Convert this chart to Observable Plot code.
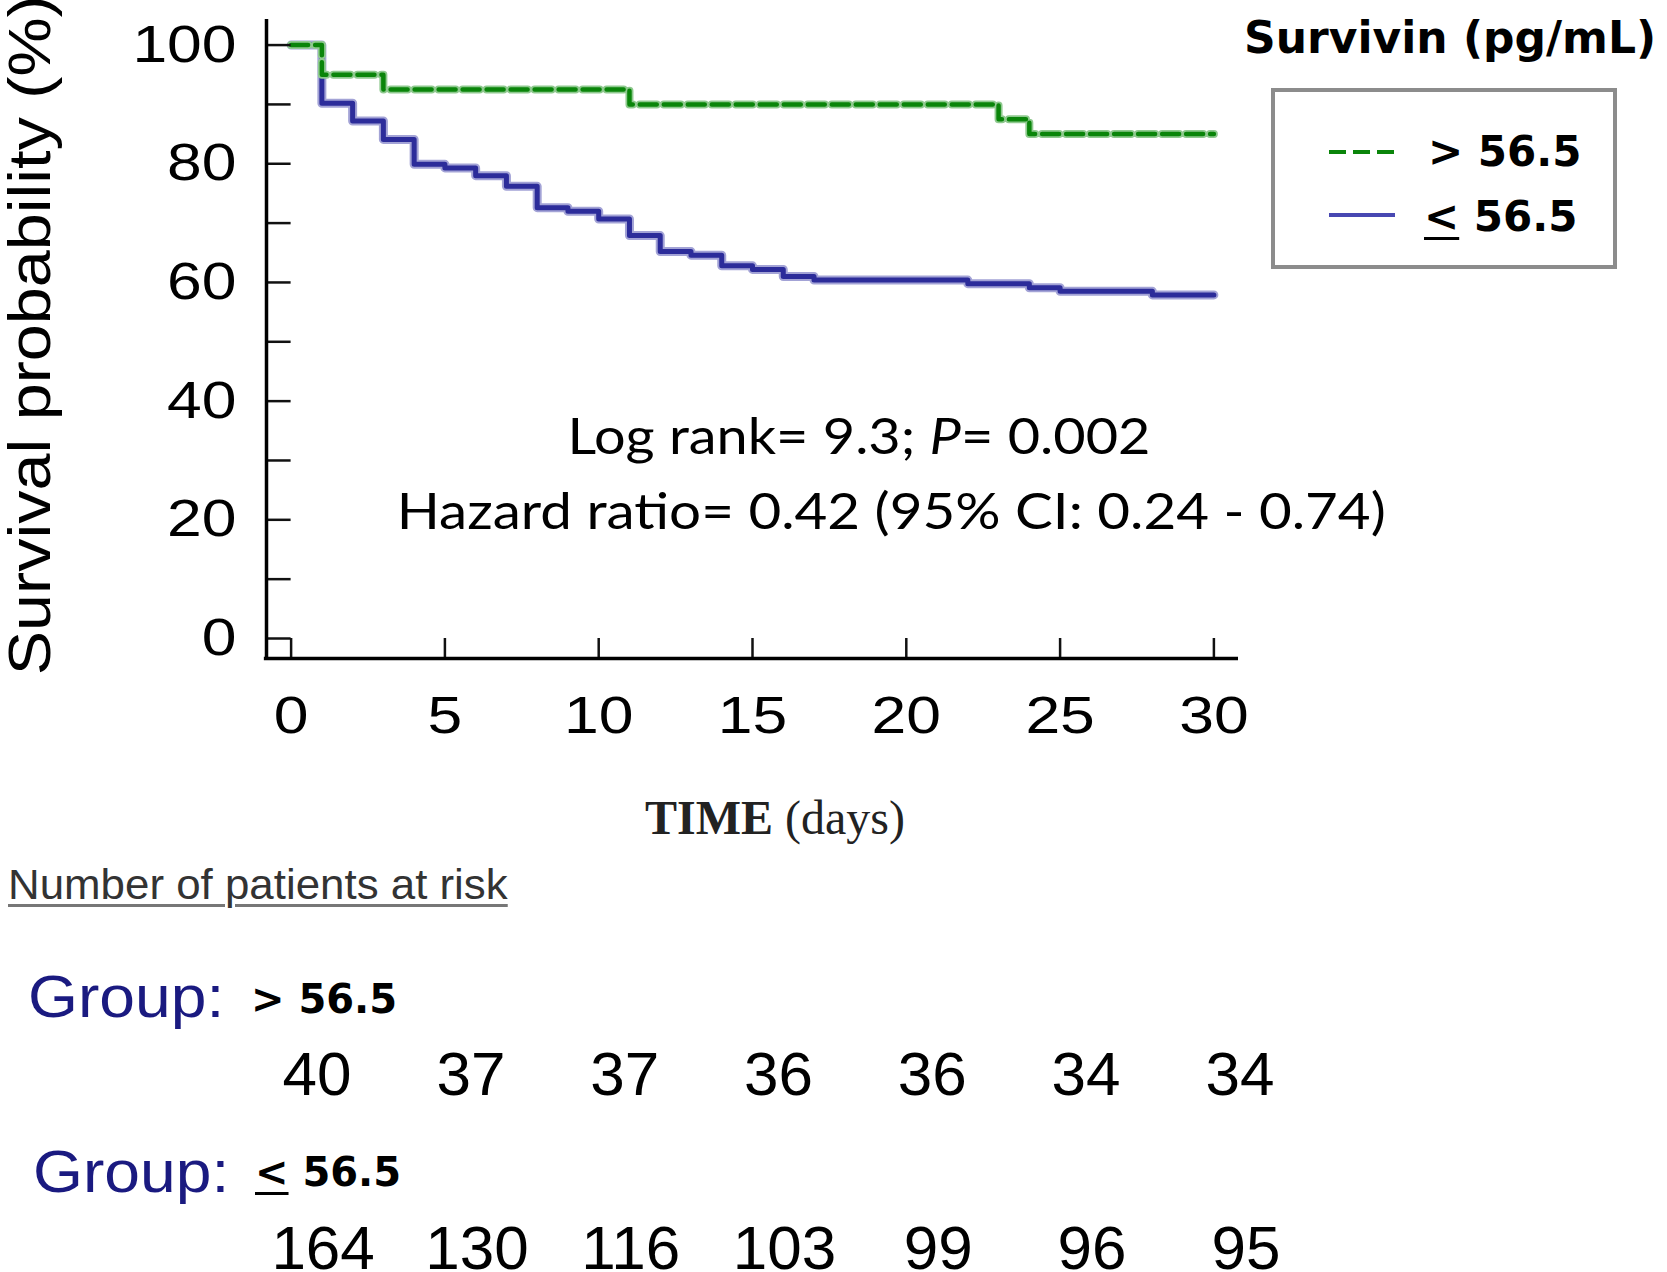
<!DOCTYPE html>
<html>
<head>
<meta charset="utf-8">
<script src="https://cdn.jsdelivr.net/npm/d3@7"></script>
<script src="https://cdn.jsdelivr.net/npm/@observablehq/plot@0.6"></script>
<style>
  html, body { margin: 0; padding: 0; background: #fff; }
  #wrap { position: relative; width: 1667px; height: 1272px; overflow: hidden; background: #fff; }
  #wrap > svg { position: absolute; left: 0; }
  .abs { position: absolute; line-height: 1; white-space: nowrap; }
  .ul { text-decoration: underline; text-decoration-thickness: 3px; text-underline-offset: 6px; }
</style>
</head>
<body>
<div id="wrap"></div>
<script>
// ---------- data ----------
const xTicks = [0, 5, 10, 15, 20, 25, 30];
const yTicks = [0, 10, 20, 30, 40, 50, 60, 70, 80, 90, 100];
const yLabelTicks = [0, 20, 40, 60, 80, 100];

const groups = ["> 56.5", "≤ 56.5"];

const highTimes = [0, 1, 3, 11, 23, 24, 30];
const highSurv  = [100, 95, 92.5, 90, 87.5, 85, 85];

const lowTimes = [0, 1, 2, 3, 4, 5, 6, 7, 8, 9, 10, 11, 12, 13, 14, 15, 16, 17, 22, 24, 25, 28, 30];
const lowSurv  = [100, 90.2, 87.2, 84.1, 79.9, 79.3, 78.0, 76.2, 72.6, 72.0, 70.7, 67.9, 65.2, 64.6, 62.8, 62.2, 61.0, 60.4, 59.8, 59.1, 58.5, 57.9, 57.9];

const riskDays = [0, 5, 10, 15, 20, 25, 30];
const riskHigh = [40, 37, 37, 36, 36, 34, 34];
const riskLow  = [164, 130, 116, 103, 99, 96, 95];

const yTitle = "Survival probability (%)";
const xTitleBold = "TIME";
const xTitleRest = " (days)";
const legendTitle = "Survivin (pg/mL)";
const logRankText = "Log rank= 9.3; P= 0.002";
const hazardText = "Hazard ratio= 0.42 (95% CI: 0.24 - 0.74)";
const riskTitle = "Number of patients at risk";
const groupWord = "Group:";

// ---------- derived tables ----------
const highData = highTimes.map((t, i) => ({t, s: highSurv[i]}));
const lowData = lowTimes.map((t, i) => ({t, s: lowSurv[i]}));
const riskRowsHigh = riskDays.map((d, i) => ({d, n: riskHigh[i], g: groups[0]}));
const riskRowsLow = riskDays.map((d, i) => ({d, n: riskLow[i], g: groups[1]}));

const xDomain = [-0.8, 30.8];
const yDomain = [-3.37, 104.31];
const GREEN = "#0a850a", GREEN_HALO = "#8fc98f";
const BLUE = "#2c2c9a", BLUE_HALO = "#a3a3d6";
const dash = "17,7";

const wrap = document.getElementById("wrap");

const main = Plot.plot({
  width: 1667,
  height: 780,
  marginLeft: 266,
  marginRight: 429,
  marginTop: 19,
  marginBottom: 122,
  style: {fontFamily: "'Liberation Sans', Arial, sans-serif", background: "transparent", color: "#000", overflow: "visible"},
  x: {domain: xDomain},
  y: {domain: yDomain},
  marks: [
    // survival curves
    Plot.line(lowData, {x: "t", y: "s", curve: "step-after", stroke: BLUE_HALO, strokeWidth: 9}),
    Plot.line(lowData, {x: "t", y: "s", curve: "step-after", stroke: BLUE, strokeWidth: 5}),
    Plot.line(highData, {x: "t", y: "s", curve: "step-after", stroke: GREEN_HALO, strokeWidth: 8, strokeDasharray: dash}),
    Plot.line(highData, {x: "t", y: "s", curve: "step-after", stroke: GREEN, strokeWidth: 4.5, strokeDasharray: dash}),
    // axis lines and inward ticks
    Plot.ruleY(yTicks, {x1: xDomain[0], x2: 0, stroke: "#111", strokeWidth: 2.5}),
    Plot.ruleX(xTicks, {y1: yDomain[0], y2: 0, stroke: "#111", strokeWidth: 2.5}),
    Plot.ruleX([xDomain[0]], {stroke: "#000", strokeWidth: 3.5}),
    Plot.ruleY([yDomain[0]], {x1: -0.87, x2: xDomain[1], stroke: "#000", strokeWidth: 3.5}),
    // tick labels
    Plot.axisY({ticks: yLabelTicks, tickSize: 0, tickPadding: 30, fontSize: 52, label: null, anchor: "left"}),
    Plot.axisX({ticks: xTicks, tickSize: 0, tickPadding: 38, fontSize: 52, label: null, anchor: "bottom"}),
    // y title
    Plot.text([yTitle], {x: -8.45, y: 51.1, text: d => d, rotate: -90, fontSize: 60, fill: "#000"}),
    // statistics annotation
    Plot.text([logRankText], {x: 18.46, y: 33.92, text: d => d, fontSize: 51, fontFamily: "Lato", fill: "#000"}),
    Plot.text([hazardText], {x: 19.51, y: 21.28, text: d => d, fontSize: 51, fontFamily: "Lato", fill: "#000"})
  ]
});
main.style.top = "0px";
wrap.appendChild(main);

const risk = Plot.plot({
  width: 1667,
  height: 282,
  marginLeft: 266,
  marginRight: 429,
  marginTop: 85,
  marginBottom: 23,
  style: {fontFamily: "'Liberation Sans', Arial, sans-serif", background: "transparent", color: "#000"},
  x: {domain: xDomain, axis: null},
  y: {type: "point", domain: groups, padding: 0, axis: null},
  marks: [
    Plot.text(riskRowsHigh, {x: "d", y: "g", text: "n", dx: 26, fontSize: 62, fill: "#000"}),
    Plot.text(riskRowsLow, {x: "d", y: "g", text: "n", dx: 32, fontSize: 62, fill: "#000"})
  ]
});
risk.style.top = "990px";
wrap.appendChild(risk);

// ---------- text fitting ----------
function fit(t, len, adjust) {
  t.setAttribute("textLength", len);
  t.setAttribute("lengthAdjust", adjust || "spacingAndGlyphs");
}
main.querySelectorAll('g[aria-label="y-axis tick label"] text, g[aria-label="x-axis tick label"] text').forEach(t => {
  fit(t, t.getComputedTextLength() * 1.2);
});
main.querySelectorAll("text").forEach(t => {
  if (t.textContent === yTitle) fit(t, 680);
  if (t.textContent === hazardText) fit(t, 989);
  if (t.textContent === logRankText) {
    const parts = logRankText.split("P=");
    t.textContent = "";
    const ns = "http://www.w3.org/2000/svg";
    const a = document.createElementNS(ns, "tspan"); a.textContent = parts[0];
    const b = document.createElementNS(ns, "tspan"); b.textContent = "P"; b.setAttribute("font-style", "italic");
    const c = document.createElementNS(ns, "tspan"); c.textContent = "=" + parts[1];
    t.append(a, b, c);
    fit(t, 583);
  }
});

// ---------- legend & captions (HTML) ----------
function add(html, css) {
  const d = document.createElement("div");
  d.className = "abs";
  d.style.cssText = css;
  d.innerHTML = html;
  wrap.appendChild(d);
  return d;
}
function esc(s) { return s.replace(/&/g, "&amp;").replace(/</g, "&lt;").replace(/>/g, "&gt;"); }
function groupHtml(g) {
  // "≤" is shown as an underlined "<"
  return g.startsWith("≤") ? '<span class="ul">&lt;</span>' + esc(g.slice(1)) : esc(g);
}

add(esc(legendTitle), "left:1244px;top:16px;font-family:'DejaVu Sans';font-weight:bold;font-size:44px;color:#000;");
add("", "left:1271px;top:88px;width:346px;height:181px;border:4px solid #8c8c8c;box-sizing:border-box;");
add("", `left:1329px;top:150px;width:66px;height:4px;background:repeating-linear-gradient(to right, ${GREEN} 0 17px, transparent 17px 24px);`);
add("", "left:1329px;top:213px;width:66px;height:4px;background:#4848b2;");
add(groupHtml(groups[0]), "left:1428px;top:131px;font-family:'DejaVu Sans';font-weight:bold;font-size:42px;color:#000;");
add(groupHtml(groups[1]), "left:1424px;top:196px;font-family:'DejaVu Sans';font-weight:bold;font-size:42px;color:#000;");

add(`<b>${esc(xTitleBold)}</b>${esc(xTitleRest)}`, "left:645px;top:794px;font-family:'Liberation Serif';font-size:48px;color:#222;");

add(esc(riskTitle), "left:8px;top:863px;font-family:'Liberation Sans';font-size:43px;color:#333;text-decoration:underline;text-decoration-color:#777;text-decoration-thickness:3px;text-underline-offset:5px;transform:scaleX(1.02);transform-origin:left center;");

add(esc(groupWord), "left:28px;top:967px;font-family:'Liberation Sans';font-size:60px;color:#1a1a80;transform:scaleX(1.07);transform-origin:left center;");
add(groupHtml(groups[0]), "left:251px;top:979px;font-family:'DejaVu Sans';font-weight:bold;font-size:40px;color:#000;");
add(esc(groupWord), "left:33px;top:1142px;font-family:'Liberation Sans';font-size:60px;color:#1a1a80;transform:scaleX(1.07);transform-origin:left center;");
add(groupHtml(groups[1]), "left:255px;top:1152px;font-family:'DejaVu Sans';font-weight:bold;font-size:40px;color:#000;");
</script>
</body>
</html>
